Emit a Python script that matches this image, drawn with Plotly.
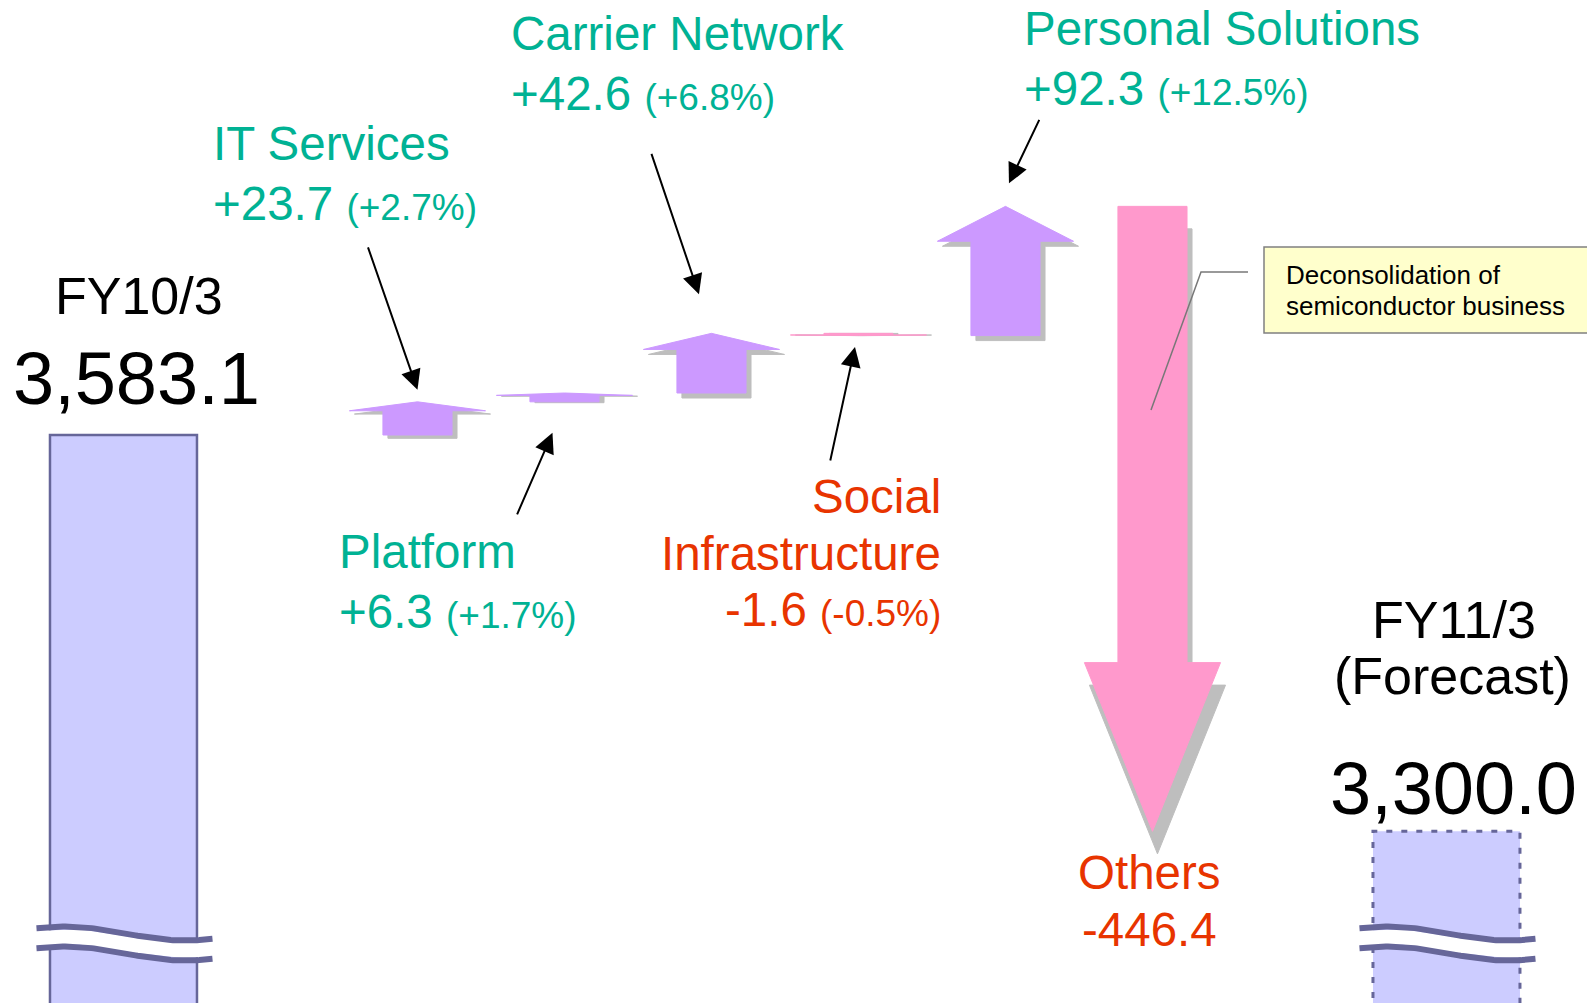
import math
import plotly.graph_objects as go

# ---------------- data ----------------
start_label = "FY10/3"
start_value = 3583.1
end_label = "FY11/3"
end_sub = "(Forecast)"
end_value = 3300.0
segments = ["IT Services", "Platform", "Carrier Network", "Social Infrastructure",
            "Personal Solutions", "Others"]
deltas = [23.7, 6.3, 42.6, -1.6, 92.3, -446.4]
pct_labels = ["(+2.7%)", "(+1.7%)", "(+6.8%)", "(-0.5%)", "(+12.5%)", ""]
seg_x = [2, 3, 4, 5, 6, 7]
start_x = 0
end_x = 9
note_lines = ["Deconsolidation of", "semiconductor business"]

# ---------------- layout constants ----------------
W, H = 1587, 1003
X_RANGE = [-0.840, 9.956]
Y_RANGE = [3177.4, 3893.8]
PX_PER_X = W / (X_RANGE[1] - X_RANGE[0])
PX_PER_Y = H / (Y_RANGE[1] - Y_RANGE[0])
FONT = "Liberation Sans, Arial, sans-serif"
TEAL = "rgb(0,178,148)"
RED = "rgb(232,52,0)"
UP_COL = "rgb(204,153,255)"
DOWN_COL = "rgb(255,153,204)"
SHADOW = "rgb(190,190,190)"
BAR_FILL = "rgb(204,204,255)"
BAR_LINE = "rgb(102,102,153)"


def val_from_px(p):
    return Y_RANGE[1] - p / PX_PER_Y


def px(x):
    return x / W


def py(y):
    return 1 - y / H


fig = go.Figure()

# ---------------- start / end bars ----------------
fig.add_trace(go.Bar(x=[start_x], y=[start_value], width=1.0,
                     marker=dict(color=BAR_FILL, line=dict(color=BAR_LINE, width=2.5)),
                     hoverinfo="skip", showlegend=False))
fig.add_trace(go.Bar(x=[end_x], y=[end_value], width=1.0,
                     marker=dict(color=BAR_FILL, line=dict(width=0)),
                     hoverinfo="skip", showlegend=False))
low = Y_RANGE[0] - 50
fig.add_trace(go.Scatter(x=[end_x - 0.5, end_x - 0.5, end_x + 0.5, end_x + 0.5],
                         y=[low, end_value, end_value, low], mode="lines",
                         line=dict(color=BAR_LINE, width=3, dash="6px,9px"),
                         hoverinfo="skip", showlegend=False))


# ---------------- block arrows ----------------
def arrow_poly(cx, s, e, hw_s=0.235, hw_h=0.463, head_frac=0.27, dx=0.0, dy=0.0):
    sign = 1 if e > s else -1
    h = abs(e - s) * head_frac
    sh = e - sign * h
    xs = [cx - hw_s, cx - hw_s, cx - hw_h, cx, cx + hw_h, cx + hw_s, cx + hw_s, cx - hw_s]
    ys = [s, sh, sh, e, sh, sh, s, s]
    return [v + dx for v in xs], [v + dy for v in ys]


level = start_value
levels = []
for cx, d in zip(seg_x, deltas):
    s, e = level, level + d
    levels.append((s, e))
    col = UP_COL if d > 0 else DOWN_COL
    len_px = abs(d) * PX_PER_Y
    sdy_px = min(5.0, 0.1 * len_px) if d > 0 else 0.036 * len_px
    xs, ys = arrow_poly(cx, s, e, dx=5 / PX_PER_X, dy=-sdy_px / PX_PER_Y)
    fig.add_trace(go.Scatter(x=xs, y=ys, fill="toself", fillcolor=SHADOW, mode="lines",
                             line=dict(color=SHADOW, width=1), hoverinfo="skip", showlegend=False))
    xs, ys = arrow_poly(cx, s, e)
    fig.add_trace(go.Scatter(x=xs, y=ys, fill="toself", fillcolor=col, mode="lines",
                             line=dict(color=col, width=1), hoverinfo="skip", showlegend=False))
    level = e


# ---------------- axis-break waves ----------------
def wave(cx, center_px, n=80):
    xs, ys = [], []
    for i in range(n + 1):
        off = -87 + 176 * i / n
        ypx = center_px - 7.0 * math.cos(2 * math.pi * (off + 58.5) / 240)
        xs.append(cx + off / PX_PER_X)
        ys.append(val_from_px(ypx))
    return xs, ys


for cx in (start_x, end_x):
    xs, ys = wave(cx, 943.5)
    fig.add_trace(go.Scatter(x=xs, y=ys, mode="lines", line=dict(color="white", width=15),
                             hoverinfo="skip", showlegend=False))
    for c in (933.5, 953.5):
        xs, ys = wave(cx, c)
        fig.add_trace(go.Scatter(x=xs, y=ys, mode="lines", line=dict(color=BAR_LINE, width=6),
                                 hoverinfo="skip", showlegend=False))

# ---------------- text ----------------
ann = []


def txt(text, x, y, size, color, anchor="left"):
    ann.append(dict(text=text, x=px(x), y=py(y), xref="paper", yref="paper",
                    xanchor=anchor, yanchor="middle", showarrow=False,
                    font=dict(family=FONT, size=size, color=color)))


def dlabel(i):
    s = f"{deltas[i]:+.1f}"
    if pct_labels[i]:
        s += f" <span style='font-size:37px'>{pct_labels[i]}</span>"
    return s


txt(start_label, 139, 295.5, 52, "black", "center")
txt(f"{start_value:,.1f}", 136, 379, 74, "black", "center")
txt(end_label, 1454, 620, 52, "black", "center")
txt(end_sub, 1452, 676, 52, "black", "center")
txt(f"{end_value:,.1f}", 1453, 788, 74, "black", "center")

txt(segments[0], 211, 143, 47.5, TEAL)
txt(dlabel(0), 211, 203, 47.5, TEAL)
txt(segments[1], 337, 551, 47.5, TEAL)
txt(dlabel(1), 337, 611, 47.5, TEAL)
txt(segments[2], 509, 33, 47.5, TEAL)
txt(dlabel(2), 509, 93.5, 47.5, TEAL)
txt("Social", 943, 496, 47.5, RED, "right")
txt("Infrastructure", 943, 553, 47.5, RED, "right")
txt(dlabel(3), 943, 609, 47.5, RED, "right")
txt(segments[4], 1022, 29, 47.5, TEAL)
txt(dlabel(4), 1022, 88.5, 47.5, TEAL)
txt(segments[5], 1149.5, 872, 47.5, RED, "center")
txt(f"{deltas[5]:+.1f}".replace("+", ""), 1149.5, 929.5, 47.5, RED, "center")

txt(note_lines[0], 1284, 275, 26, "black")
txt(note_lines[1], 1284, 306, 26, "black")

# ---------------- pointer arrows ----------------
# (segment index, anchor on start/end, xshift, yshift, ax, ay)
pointers = [
    (0, 1, 0, 12, -50, -144),
    (1, 0, -12, -31, -36, 83),
    (2, 1, -12.5, 39, -48, -142),
    (3, 0, -3.5, -13.6, -25, 115),
    (4, 1, 3.5, 23, 31, -65),
]
for i, which, xs_, ys_, ax, ay in pointers:
    ann.append(dict(text="", x=seg_x[i], y=levels[i][which], xref="x", yref="y",
                    xshift=xs_, yshift=ys_, ax=ax, ay=ay, showarrow=True,
                    arrowhead=2, arrowsize=2.0, arrowwidth=2, arrowcolor="black"))

shapes = [
    dict(type="rect", xref="paper", yref="paper", x0=px(1264), x1=1.05, y0=py(333), y1=py(247),
         fillcolor="rgb(255,255,204)", line=dict(color="rgb(128,128,128)", width=1.5), layer="above"),
    dict(type="path", xref="paper", yref="paper",
         path=f"M {px(1248)},{py(272)} L {px(1201)},{py(272)} L {px(1151)},{py(410)}",
         line=dict(color="rgb(120,120,120)", width=1.5), layer="above"),
]

fig.update_layout(
    width=W, height=H, margin=dict(l=0, r=0, t=0, b=0),
    paper_bgcolor="white", plot_bgcolor="white",
    xaxis=dict(range=X_RANGE, visible=False, fixedrange=True),
    yaxis=dict(range=Y_RANGE, visible=False, fixedrange=True),
    barmode="overlay", showlegend=False,
    annotations=ann, shapes=shapes,
)

fig.write_html("out.html", config={"displayModeBar": False},
               post_script="document.body.style.margin='0';document.body.style.overflow='hidden';")
